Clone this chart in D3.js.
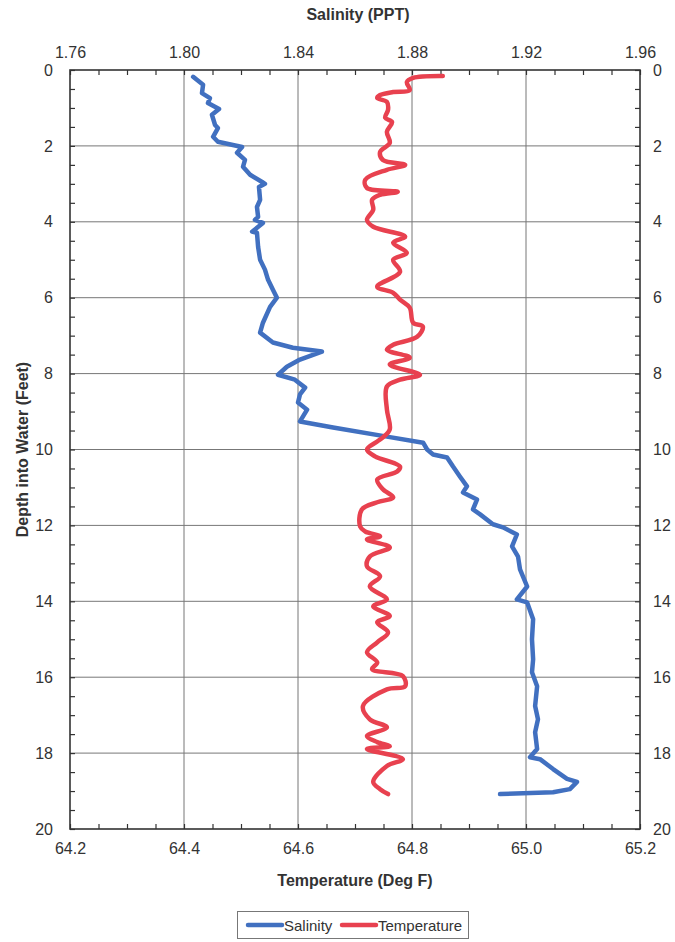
<!DOCTYPE html>
<html>
<head>
<meta charset="utf-8">
<script src="https://cdn.jsdelivr.net/npm/d3@7"></script>
<style>
  body { margin: 0; background: #fff; }
  text { font-family: "Liberation Sans", Arial, sans-serif; fill: #333; }
</style>
</head>
<body>
<div id="chart"></div>
<script>
var w = 675;
var h = 942;

// depth (feet) and salinity (PPT)
var salDepth = [0.18, 0.39, 0.61, 0.74, 0.87, 1.03, 1.18, 1.45, 1.53, 1.76, 1.89, 2.03, 2.18, 2.37, 2.55, 2.76, 2.95, 3.00, 3.08, 3.42,
  3.61, 3.87, 3.95, 4.03, 4.26, 4.29, 4.66, 5.00, 5.26, 5.53, 5.79, 6.00, 6.24, 6.66, 6.92, 7.18, 7.32, 7.42, 7.63, 7.82,
  8.03, 8.16, 8.37, 8.55, 8.76, 8.95, 9.26, 9.42, 9.66, 9.82, 10.0, 10.13, 10.21, 10.45, 10.71, 10.97, 11.13, 11.32, 11.58, 11.71,
  11.97, 12.05, 12.24, 12.55, 12.82, 13.16, 13.61, 13.95, 14.03, 14.47, 15.0, 15.53, 15.87, 16.24, 16.76, 17.11, 17.45, 17.89, 18.11, 18.16,
  18.42, 18.68, 18.76, 18.95, 19.03, 19.08];
var salinity = [1.8032, 1.8067, 1.8063, 1.8091, 1.8084, 1.8123, 1.8098, 1.8109, 1.8119, 1.8102, 1.8119, 1.8204, 1.8186, 1.8214, 1.8207, 1.8232, 1.8274, 1.8284, 1.8263, 1.8267,
  1.8256, 1.8260, 1.8249, 1.8277, 1.8239, 1.8256, 1.8260, 1.8267, 1.8284, 1.8295, 1.8312, 1.8326, 1.8302, 1.8277, 1.8267, 1.8312, 1.8382, 1.8484, 1.8407, 1.8361,
  1.8330, 1.8389, 1.8425, 1.8407, 1.8400, 1.8432, 1.8407, 1.8523, 1.8712, 1.8839, 1.8853, 1.8874, 1.8923, 1.8944, 1.8968, 1.8993, 1.8979, 1.9028, 1.9014, 1.9039,
  1.9084, 1.9119, 1.9168, 1.9151, 1.9172, 1.9179, 1.9204, 1.9168, 1.9204, 1.9225, 1.9221, 1.9225, 1.9221, 1.9239, 1.9232, 1.9242, 1.9232, 1.9239, 1.9214, 1.9249,
  1.9295, 1.9344, 1.9379, 1.9354, 1.9295, 1.9109];

// depth (feet) and temperature (deg F)
var tempDepth = [0.16, 0.21, 0.32, 0.53, 0.58, 0.66, 0.74, 0.84, 1.05, 1.26, 1.37, 1.63, 1.92, 2.16, 2.37, 2.50, 2.63, 2.89, 3.11, 3.21,
  3.29, 3.42, 3.68, 3.95, 4.13, 4.39, 4.55, 4.82, 5.00, 5.32, 5.71, 5.87, 6.05, 6.26, 6.66, 6.76, 7.03, 7.24, 7.37, 7.58,
  7.76, 8.03, 8.16, 8.34, 8.95, 9.47, 9.68, 9.79, 10.0, 10.18, 10.45, 10.58, 10.79, 11.05, 11.26, 11.39, 11.58, 12.03, 12.16, 12.29,
  12.37, 12.58, 12.82, 13.08, 13.34, 13.61, 13.95, 14.13, 14.39, 14.55, 14.82, 15.08, 15.34, 15.61, 15.79, 15.97, 16.24, 16.32, 16.76, 17.11,
  17.32, 17.55, 17.71, 17.82, 17.89, 18.16, 18.34, 18.76, 18.95, 19.08];
var temperature = [64.854, 64.802, 64.791, 64.796, 64.767, 64.744, 64.739, 64.756, 64.758, 64.753, 64.765, 64.756, 64.761, 64.744, 64.749, 64.788, 64.756, 64.718, 64.721, 64.775,
  64.744, 64.730, 64.732, 64.721, 64.732, 64.788, 64.767, 64.791, 64.767, 64.779, 64.739, 64.767, 64.779, 64.796, 64.802, 64.819, 64.809, 64.767, 64.756, 64.796,
  64.761, 64.814, 64.779, 64.756, 64.756, 64.761, 64.749, 64.739, 64.721, 64.735, 64.779, 64.774, 64.739, 64.749, 64.767, 64.739, 64.712, 64.709, 64.718, 64.744,
  64.721, 64.761, 64.726, 64.721, 64.744, 64.726, 64.756, 64.732, 64.761, 64.739, 64.758, 64.739, 64.721, 64.739, 64.730, 64.784, 64.788, 64.756, 64.714, 64.726,
  64.756, 64.721, 64.739, 64.761, 64.721, 64.784, 64.756, 64.732, 64.744, 64.758];

var salTicks = [1.76, 1.80, 1.84, 1.88, 1.92, 1.96];
var tempTicks = [64.2, 64.4, 64.6, 64.8, 65.0, 65.2];
var depthTicks = [0, 2, 4, 6, 8, 10, 12, 14, 16, 18, 20];

// plot frame (note: "top" is a reserved window global, so prefixed names)
var pLeft = 70, pRight = 640, pTop = 70, pBottom = 829;

var svg = d3.select("#chart")
  .append("svg")
  .attr("width", w)
  .attr("height", h);

var xTemp = d3.scaleLinear().domain([64.2, 65.2]).range([pLeft, pRight]);
var xSal = d3.scaleLinear().domain([1.76, 1.96]).range([pLeft, pRight]);
var yDepth = d3.scaleLinear().domain([0, 20]).range([pTop, pBottom]);

// grid
svg.append("g")
  .selectAll("line")
  .data(tempTicks.slice(1, -1))
  .enter()
  .append("line")
  .attr("x1", function(d) { return xTemp(d); })
  .attr("x2", function(d) { return xTemp(d); })
  .attr("y1", pTop)
  .attr("y2", pBottom)
  .attr("stroke", "#777")
  .attr("stroke-width", 1);

svg.append("g")
  .selectAll("line")
  .data(depthTicks.slice(1, -1))
  .enter()
  .append("line")
  .attr("x1", pLeft)
  .attr("x2", pRight)
  .attr("y1", function(d) { return yDepth(d); })
  .attr("y2", function(d) { return yDepth(d); })
  .attr("stroke", "#777")
  .attr("stroke-width", 1);

// minor ticks, pointing into the plot
function styleAxis(g) {
  g.select(".domain").remove();
  g.selectAll("line").attr("stroke", "#333").attr("stroke-width", 1.2);
  g.selectAll("text").remove();
}
var salMinor = d3.range(1.76, 1.9601, 0.01);
var tempMinor = d3.range(64.2, 65.2001, 0.05);
var depthMinor = d3.range(0, 20.001, 0.5);

svg.append("g").attr("transform", "translate(0," + pTop + ")")
  .call(d3.axisTop(xSal).tickValues(salMinor).tickSize(-5)).call(styleAxis);
svg.append("g").attr("transform", "translate(0," + pBottom + ")")
  .call(d3.axisBottom(xTemp).tickValues(tempMinor).tickSize(-5)).call(styleAxis);
svg.append("g").attr("transform", "translate(" + pLeft + ",0)")
  .call(d3.axisLeft(yDepth).tickValues(depthMinor).tickSize(-5)).call(styleAxis);
svg.append("g").attr("transform", "translate(" + pRight + ",0)")
  .call(d3.axisRight(yDepth).tickValues(depthMinor).tickSize(-5)).call(styleAxis);

// frame
svg.append("rect")
  .attr("x", pLeft)
  .attr("y", pTop)
  .attr("width", pRight - pLeft)
  .attr("height", pBottom - pTop)
  .attr("fill", "none")
  .attr("stroke", "#333")
  .attr("stroke-width", 1.6);

// tick labels
function labelAxis(g) {
  g.select(".domain").remove();
  g.selectAll("line").remove();
  g.selectAll("text").attr("font-size", "16px").attr("fill", "#333")
    .attr("font-family", "Liberation Sans, Arial, sans-serif");
}
svg.append("g").attr("transform", "translate(0," + pTop + ")")
  .call(d3.axisTop(xSal).tickValues(salTicks).tickSize(0).tickPadding(12).tickFormat(d3.format(".2f")))
  .call(labelAxis);
svg.append("g").attr("transform", "translate(0," + pBottom + ")")
  .call(d3.axisBottom(xTemp).tickValues(tempTicks).tickSize(0).tickPadding(14).tickFormat(d3.format(".1f")))
  .call(labelAxis);
svg.append("g").attr("transform", "translate(" + pLeft + ",0)")
  .call(d3.axisLeft(yDepth).tickValues(depthTicks).tickSize(0).tickPadding(17))
  .call(labelAxis);
svg.append("g").attr("transform", "translate(" + pRight + ",0)")
  .call(d3.axisRight(yDepth).tickValues(depthTicks).tickSize(0).tickPadding(13))
  .call(labelAxis);

// lines
var salLine = d3.line()
  .x(function(d) { return xSal(d[1]); })
  .y(function(d) { return yDepth(d[0]); });
var tempLine = d3.line()
  .curve(d3.curveCatmullRom)
  .x(function(d) { return xTemp(d[1]); })
  .y(function(d) { return yDepth(d[0]); });

svg.append("path")
  .datum(d3.zip(salDepth, salinity))
  .attr("d", salLine)
  .attr("fill", "none")
  .attr("stroke", "#4170c0")
  .attr("stroke-width", 4.5)
  .attr("stroke-linejoin", "round")
  .attr("stroke-linecap", "round");

svg.append("path")
  .datum(d3.zip(tempDepth, temperature))
  .attr("d", tempLine)
  .attr("fill", "none")
  .attr("stroke", "#e8414f")
  .attr("stroke-width", 4.5)
  .attr("stroke-linejoin", "round")
  .attr("stroke-linecap", "round");

// axis titles
svg.append("text")
  .text("Salinity (PPT)")
  .attr("x", (pLeft + pRight) / 2 + 3)
  .attr("y", 20)
  .attr("text-anchor", "middle")
  .attr("font-size", "16px")
  .attr("font-weight", "bold");

svg.append("text")
  .text("Temperature (Deg F)")
  .attr("x", (pLeft + pRight) / 2)
  .attr("y", 886)
  .attr("text-anchor", "middle")
  .attr("font-size", "16px")
  .attr("font-weight", "bold");

svg.append("text")
  .text("Depth into Water (Feet)")
  .attr("transform", "translate(28," + (pTop + pBottom) / 2 + ") rotate(-90)")
  .attr("text-anchor", "middle")
  .attr("font-size", "16px")
  .attr("font-weight", "bold");

// legend
var legend = svg.append("g");
legend.append("rect")
  .attr("x", 237.5)
  .attr("y", 911.5)
  .attr("width", 231)
  .attr("height", 27)
  .attr("fill", "#fff")
  .attr("stroke", "#777")
  .attr("stroke-width", 1);

var legendItems = [
  {name: "Salinity", color: "#4170c0", x: 248},
  {name: "Temperature", color: "#e8414f", x: 342}
];
legend.selectAll("line")
  .data(legendItems)
  .enter()
  .append("line")
  .attr("x1", function(d) { return d.x; })
  .attr("x2", function(d) { return d.x + 34; })
  .attr("y1", 925)
  .attr("y2", 925)
  .attr("stroke", function(d) { return d.color; })
  .attr("stroke-width", 4.5)
  .attr("stroke-linecap", "round");
legend.selectAll("text")
  .data(legendItems)
  .enter()
  .append("text")
  .text(function(d) { return d.name; })
  .attr("x", function(d) { return d.x + 36; })
  .attr("y", 930.5)
  .attr("font-size", "15px");
</script>
</body>
</html>
